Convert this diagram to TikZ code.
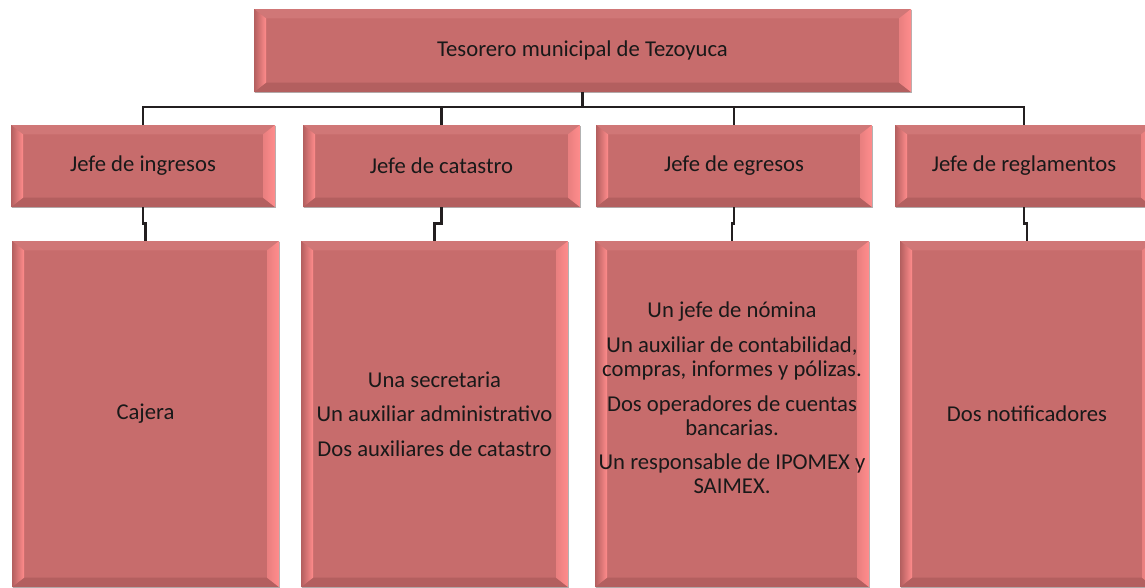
\documentclass[tikz,border=0pt]{standalone}
\usepackage{fontspec}
\setmainfont{Carlito}
\usetikzlibrary{shadows}
\definecolor{boxred}{HTML}{C76C6C}
\definecolor{bevellight}{HTML}{FF8C8C}
\definecolor{beveldark}{HTML}{B35F5F}
\definecolor{bevelup}{HTML}{D07777}
\definecolor{linkblack}{HTML}{231F20}
\begin{document}
\begin{tikzpicture}[x=0.75pt, y=-0.75pt,
  unit/.style={rectangle, fill=boxred, inner sep=0pt, align=center, text=black!90,
    font=\fontsize{17}{18}\selectfont,
    drop shadow={shadow xshift=0.7pt, shadow yshift=-0.7pt, opacity=0.3, fill=black},
    path picture={
      \coordinate (sw) at (path picture bounding box.south west);
      \coordinate (ne) at (path picture bounding box.north east);
      \coordinate (nw) at (sw |- ne);
      \coordinate (se) at (ne |- sw);
      \fill[bevelup] (nw) -- (ne) -- ([shift={(-9pt,-7pt)}]ne) -- ([shift={(9pt,-7pt)}]nw) -- cycle;
      \fill[beveldark] (sw) -- (se) -- ([shift={(-9pt,7pt)}]se) -- ([shift={(9pt,7pt)}]sw) -- cycle;
      \shade[left color=beveldark, right color=bevellight] (sw) -- (nw) -- ([shift={(9pt,-7pt)}]nw) -- ([shift={(9pt,7pt)}]sw) -- cycle;
      \shade[left color=boxred!40!bevellight, right color=bevellight] (se) -- (ne) -- ([shift={(-9pt,-7pt)}]ne) -- ([shift={(-9pt,7pt)}]se) -- cycle;
    }},
  head/.style={unit, minimum height=61.5pt},
  staff/.style={unit, minimum height=259.5pt},
  link/.style={draw=linkblack, line width=2.2pt}
]
\useasboundingbox (0,0) rectangle (1145,587);
\clip (0,0) rectangle (1145,587);

% top
\node[unit, minimum width=492.75pt, minimum height=62.25pt] (tesorero) at (582.5,50.5) {Tesorero municipal de Tezoyuca};

% jefes
\node[head, minimum width=198pt] (ingresos) at (143,166) {Jefe de ingresos};
\node[head, minimum width=207.75pt] (catastro) at (441.5,166) {Jefe de catastro};
\node[head, minimum width=207pt] (egresos) at (734,166) {Jefe de egresos};
\node[head, minimum width=193.5pt] (reglamentos) at (1024,166) {Jefe de reglamentos};

% personal
\node[staff, minimum width=200.25pt] (cajera) at (145.5,414) {Cajera};
\node[staff, minimum width=200.25pt] (personalcat) at (434.5,414)
  {Una secretaria\\[8pt]Un auxiliar administrativo\\[8pt]Dos auxiliares de catastro};
\node[staff, minimum width=205.5pt, text depth=24pt] (personaleg) at (732,414)
  {Un jefe de nómina\\[8pt]Un auxiliar de contabilidad,\\compras, informes y pólizas.\\[8pt]Dos operadores de cuentas\\bancarias.\\[8pt]Un responsable de IPOMEX y\\SAIMEX.};
\node[staff, minimum width=190.5pt] (notificadores) at (1027,414) {Dos notificadores};

% lines
\coordinate (bus) at (582.5,107);
\draw[link] (tesorero.south) -- (tesorero.south |- bus);
\draw[link] (ingresos.north) |- (bus -| reglamentos.north) -- (reglamentos.north);
\draw[link] (catastro.north) -- (catastro.north |- bus);
\draw[link] (egresos.north) -- (egresos.north |- bus);
\draw[link] (ingresos.south) -- ++(0,16) -| (cajera.north);
\draw[link] (catastro.south) -- ++(0,16) -| (personalcat.north);
\draw[link] (egresos.south) -- ++(0,16) -| (personaleg.north);
\draw[link] (reglamentos.south) -- ++(0,16) -| (notificadores.north);
\end{tikzpicture}
\end{document}
